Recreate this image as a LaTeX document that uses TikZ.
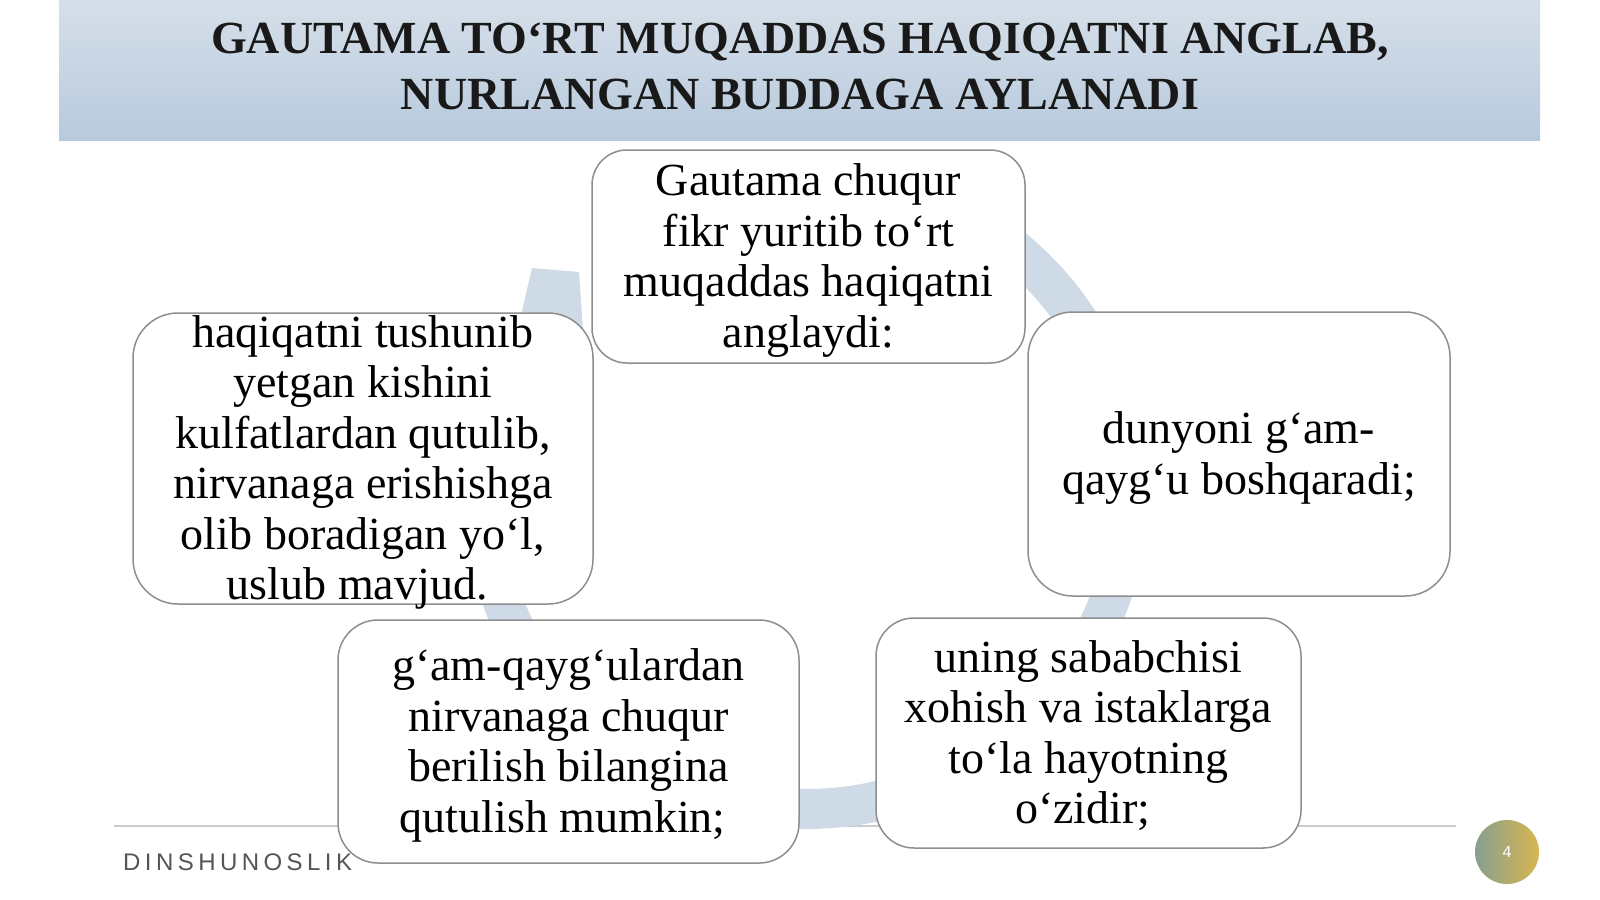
\documentclass[tikz,border=0pt]{standalone}
\usepackage{fontspec}
\setmainfont{Liberation Serif}
\newfontfamily\footfont[LetterSpace=18.5]{Liberation Sans}
\newfontfamily\numfont{Liberation Sans}
\definecolor{hdrtop}{HTML}{D6DFE9}
\definecolor{hdrbot}{HTML}{B8CADD}
\definecolor{ringc}{HTML}{CFDAE7}
\definecolor{boxgray}{HTML}{8E8E8E}
\definecolor{footgray}{HTML}{555555}
\definecolor{linegray}{HTML}{C8CDD2}
\definecolor{pgl}{HTML}{879F90}
\definecolor{pgr}{HTML}{D8B650}
\newcommand\lnstrut{\rule[-10.5pt]{0pt}{50.5pt}}
\newcommand\ttlstrut{\rule[-14pt]{0pt}{56pt}}
\begin{document}
\begin{tikzpicture}[x=1pt,y=-1pt,
  boxst/.style={draw=boxgray, line width=1.5pt, fill=white, inner sep=0pt},
  txt/.style={font=\fontsize{46}{50.5}\selectfont, align=center, inner sep=0pt, text=black},
  ttl/.style={font=\bfseries\fontsize{46}{56}\selectfont, align=center, inner sep=0pt, text=black!90}
]
\useasboundingbox (0,0) rectangle (1600,899);
\fill[white] (0,0) rectangle (1600,899);
% header
\shade[top color=hdrtop, bottom color=hdrbot] (59,0) rectangle (1540,140);
\node[ttl] (title) at (800,67) {\ttlstrut GAUTAMA TO‘RT MUQADDAS HAQIQATNI ANGLAB,\\\ttlstrut NURLANGAN BUDDAGA AYLANADI};
% footer line
\coordinate (fl1) at (114,826);
\coordinate (fl2) at (1456,826);
\draw[linegray, line width=2pt] (fl1) -- (fl2);
% ring arrow
\draw[ringc, line width=40pt] plot[domain=-70:209, samples=160] ({806+323*cos(\x)},{492+317*sin(\x)});
\fill[ringc] (532,268) -- (579,272) -- (584,345) -- (514,345) -- cycle;
% boxes
\node[boxst, rounded corners=35pt, minimum width=433pt, minimum height=213pt] (b1) at (808.5,256.5) {};
\node[boxst, rounded corners=45pt, minimum width=422pt, minimum height=284pt] (b2) at (1239,454) {};
\node[boxst, rounded corners=38pt, minimum width=425pt, minimum height=230pt] (b3) at (1088.5,733) {};
\node[boxst, rounded corners=40pt, minimum width=461pt, minimum height=243pt] (b4) at (568.5,741.5) {};
\node[boxst, rounded corners=45pt, minimum width=460pt, minimum height=291pt] (b5) at (363,458.5) {};
% texts
\node[txt] (t1) at (b1.center) {\lnstrut Gautama chuqur\\\lnstrut fikr yuritib to‘rt\\\lnstrut muqaddas haqiqatni\\\lnstrut anglaydi:};
\node[txt] (t2) at (b2.center) {\lnstrut dunyoni g‘am-\\\lnstrut qayg‘u boshqaradi;};
\node[txt] (t3) at (b3.center) {\lnstrut uning sababchisi\\\lnstrut xohish va istaklarga\\\lnstrut to‘la hayotning\\\lnstrut o‘zidir;\kern11.5pt};
\node[txt] (t4) at (b4.center) {\lnstrut g‘am-qayg‘ulardan\\\lnstrut nirvanaga chuqur\\\lnstrut berilish bilangina\\\lnstrut qutulish mumkin;\kern11.5pt};
\node[txt] (t5) at (b5.center) {\lnstrut haqiqatni tushunib\\\lnstrut yetgan kishini\\\lnstrut kulfatlardan qutulib,\\\lnstrut nirvanaga erishishga\\\lnstrut olib boradigan yo‘l,\\\lnstrut uslub mavjud.\kern11.5pt};
% footer text and page number
\node[anchor=base west, inner sep=0pt, text=footgray, font=\footfont\fontsize{24}{29}\selectfont] (foot) at (123,870) {DINSHUNOSLIK};
\node[circle, minimum size=64pt, inner sep=0pt, left color=pgl, right color=pgr, text=white, font=\numfont\fontsize{16}{18}\selectfont] (pg) at (1507,852) {4};
\end{tikzpicture}
\end{document}
